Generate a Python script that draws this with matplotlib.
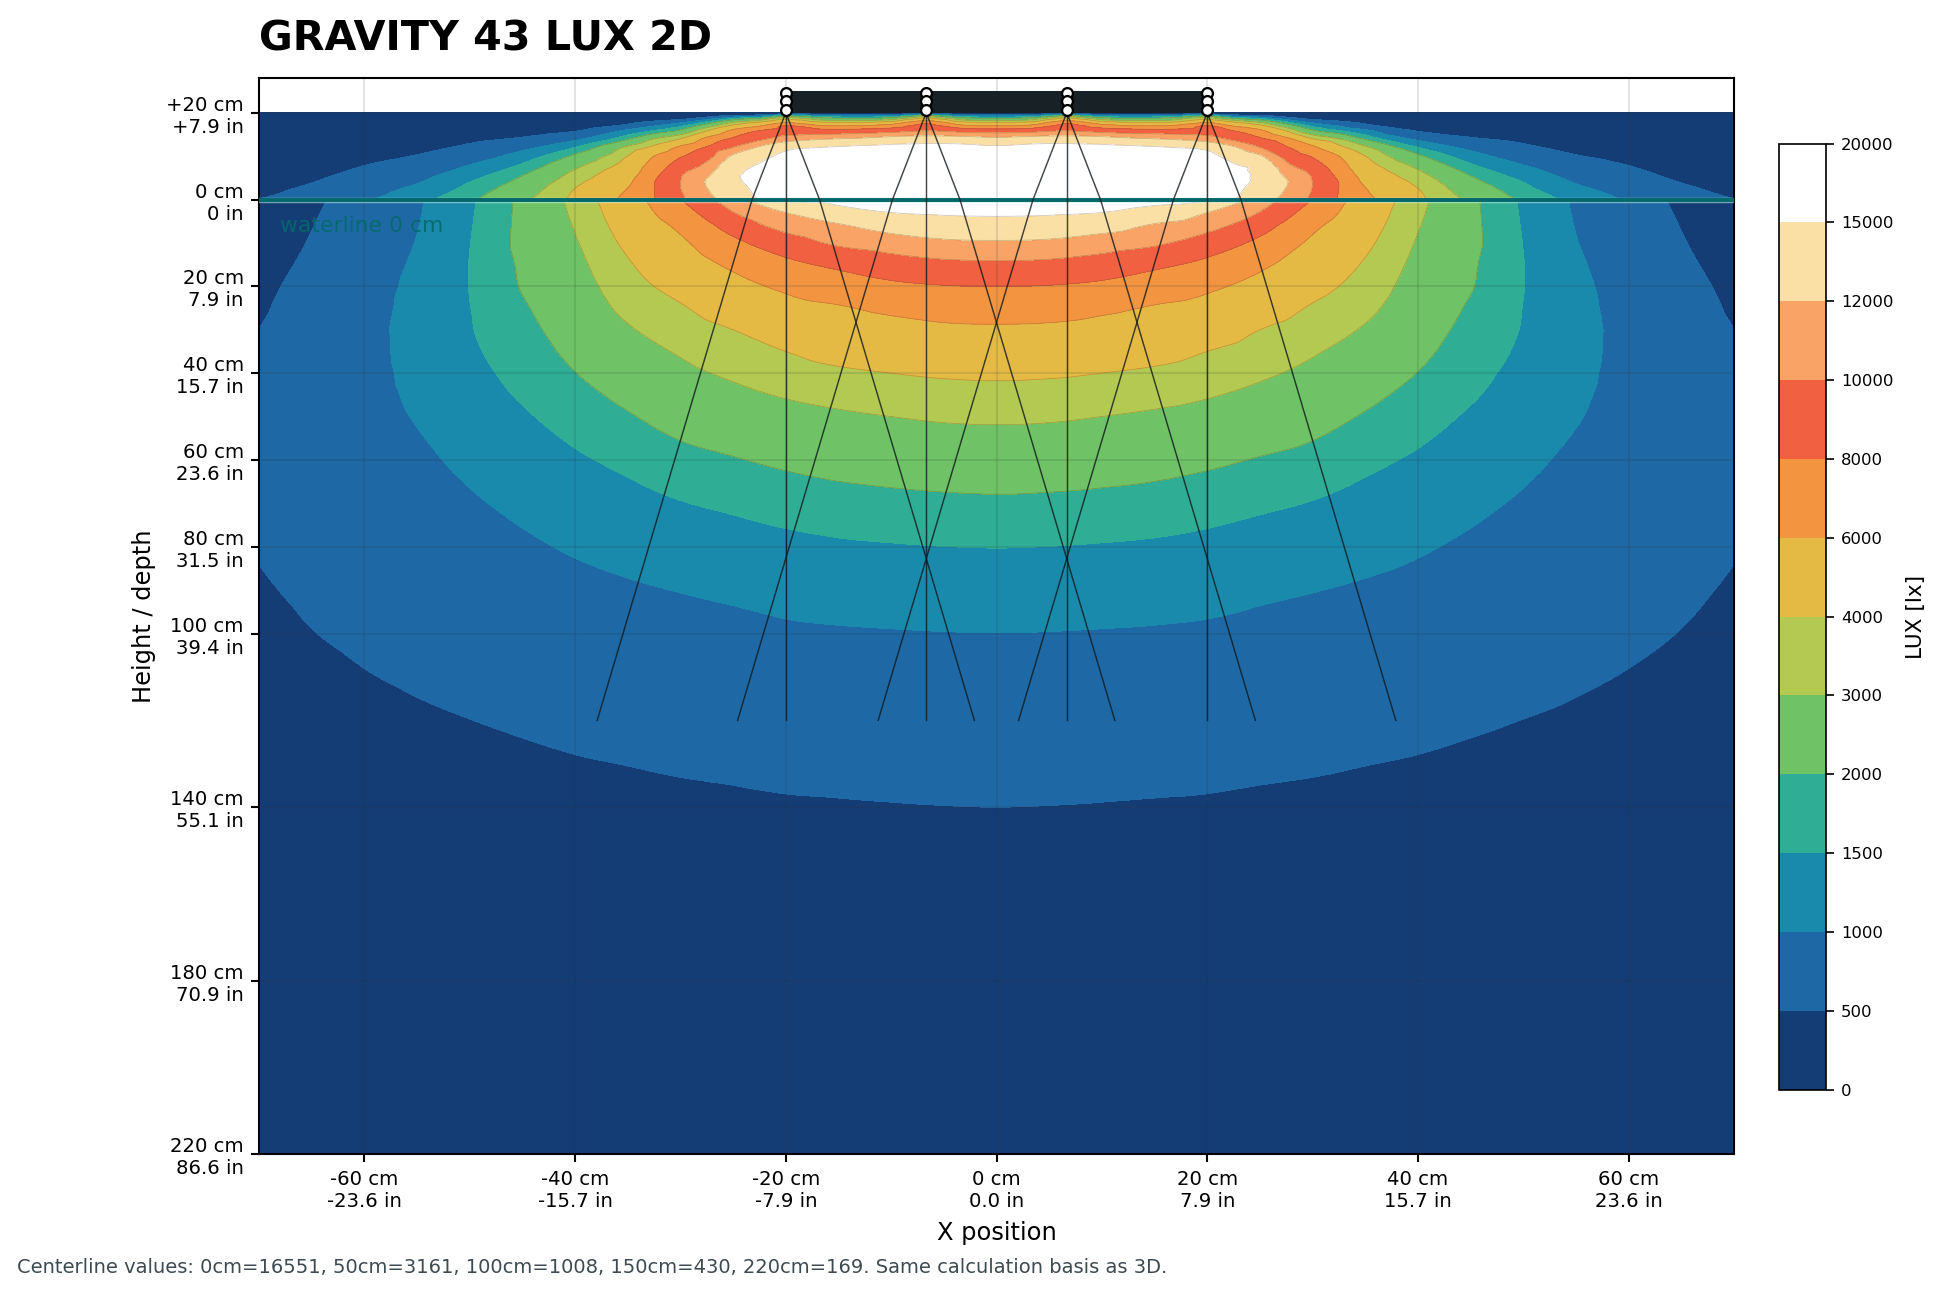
# gravity_lux_2d.py
# Side view of the lux field, air above the waterline and water below it.

import matplotlib
matplotlib.use("Agg")
import matplotlib.pyplot as plt
import matplotlib.tri as mtri
import numpy as np
from matplotlib.cm import ScalarMappable
from matplotlib.colors import BoundaryNorm, ListedColormap

# ---- values ----
LEVELS = [0, 500, 1000, 1500, 2000, 3000, 4000, 6000, 8000, 10000, 12000, 15000, 20000]
BAND_COLORS = ["#153d75", "#1e69a5", "#1a8aac", "#2fae95", "#6fc265", "#b3c951",
               "#e4ba44", "#f39540", "#f16141", "#f9a366", "#fbe0a6", "#ffffff"]

# water: one list per |x| column, values go down the depth rows
WATER_X = [0, 5, 10, 15, 20, 25, 30, 35, 40, 45, 50, 55, 60, 65, 70]
WATER_DEPTH = [0, 3, 6, 10, 15, 20, 25, 30, 35, 40, 45, 50, 60, 70, 80, 90, 100, 110, 120,
               130, 140, 160, 180, 220]
WATER_LUX = [
    [16551, 15416, 13904, 11702, 9667, 8000, 6810, 5754, 4985, 4216, 3647, 3157, 2432, 1902, 1510, 1227, 997, 839, 706, 594, 500, 393, 318, 169],
    [16800, 15340, 13698, 11565, 9541, 7928, 6723, 5692, 4923, 4154, 3608, 3118, 2409, 1880, 1497, 1215, 991, 834, 702, 591, 497, 388, 312, 166],
    [16700, 15000, 13000, 10958, 9128, 7615, 6333, 5460, 4730, 4000, 3500, 3000, 2333, 1839, 1471, 1199, 979, 824, 693, 584, 491, 378, 302, 160],
    [16000, 13865, 11745, 10292, 8383, 7000, 5860, 5160, 4460, 3808, 3290, 2868, 2241, 1786, 1436, 1176, 964, 811, 683, 574, 483, 365, 292, 153],
    [15100, 12000, 10668, 9090, 7518, 6313, 5460, 4730, 4000, 3520, 3072, 2716, 2117, 1696, 1376, 1136, 940, 793, 668, 564, 475, 352, 280, 146],
    [11100, 9926, 8815, 7555, 6320, 5460, 4730, 4000, 3548, 3147, 2792, 2484, 1963, 1583, 1298, 1066, 895, 758, 642, 543, 460, 335, 265, 138],
    [7950, 7170, 6390, 5690, 5070, 4450, 3878, 3461, 3089, 2792, 2507, 2251, 1825, 1480, 1223, 1011, 858, 729, 619, 526, 447, 318, 250, 130],
    [5200, 4923, 4646, 4277, 3871, 3548, 3226, 2910, 2630, 2378, 2149, 1951, 1612, 1344, 1133, 955, 815, 694, 592, 504, 430, 300, 235, 122],
    [3300, 3180, 3060, 2922, 2767, 2612, 2457, 2301, 2146, 1990, 1832, 1690, 1437, 1224, 1042, 893, 765, 657, 564, 484, 415, 285, 222, 115],
    [2146, 2160, 2170, 2170, 2090, 2040, 1930, 1835, 1740, 1640, 1548, 1447, 1253, 1085, 940, 815, 706, 612, 530, 459, 398, 272, 210, 110],
    [1420, 1445, 1465, 1490, 1510, 1510, 1490, 1470, 1425, 1370, 1315, 1255, 1090, 955, 839, 736, 646, 567, 498, 437, 383, 262, 205, 105],
    [950, 965, 985, 1015, 1060, 1095, 1115, 1125, 1120, 1100, 1065, 1025, 924, 826, 739, 660, 590, 527, 471, 421, 376, 250, 195, 100],
    [684, 715, 750, 783, 820, 851, 870, 888, 885, 875, 870, 860, 815, 745, 665, 600, 541, 490, 440, 395, 355, 240, 185, 95],
    [440, 465, 490, 520, 560, 600, 625, 640, 652, 660, 665, 665, 650, 612, 576, 536, 495, 450, 410, 372, 335, 225, 175, 90],
    [290, 315, 340, 370, 405, 440, 470, 500, 515, 530, 540, 545, 540, 527, 512, 480, 445, 410, 378, 348, 320, 210, 165, 85],
]

# air: same idea, height rows above the waterline
AIR_X = [0, 3.33, 6.67, 10, 13.33, 16.67, 20, 22.5, 25, 27.5, 30, 32.5, 35, 40, 45, 50, 55, 60, 65, 70]
AIR_HEIGHT = [0, 2, 4, 6, 8, 10, 12, 14, 16, 17, 18, 19, 19.5, 20]
AIR_LUX = [
    [17000, 17500, 17800, 17800, 17500, 16800, 15500, 12600, 8600, 6000, 3400, 1500, 625, 100],
    [17200, 17700, 18000, 18000, 17700, 17000, 16000, 13000, 9000, 6500, 3800, 1700, 700, 150],
    [17000, 17500, 17800, 18000, 17800, 17200, 16200, 13150, 9700, 8700, 6670, 3300, 1500, 300],
    [16900, 17400, 17700, 17800, 17500, 16900, 15900, 12900, 8900, 6900, 4000, 1700, 700, 150],
    [16500, 17000, 17300, 17300, 17000, 16400, 15500, 12200, 8500, 6000, 3400, 1500, 625, 100],
    [15800, 16300, 16500, 16700, 16500, 16000, 15000, 11700, 8400, 6200, 3600, 1700, 700, 150],
    [15050, 15800, 16300, 16500, 16300, 15700, 14300, 10830, 8800, 8000, 5250, 2670, 1250, 300],
    [15000, 15400, 15700, 15600, 15150, 14000, 12300, 9500, 7800, 5800, 3600, 1400, 500, 50],
    [13100, 13900, 14400, 14400, 13900, 12300, 10000, 8300, 6200, 4330, 2600, 1000, 380, 30],
    [11290, 11800, 12150, 11460, 10380, 9260, 8170, 6500, 3750, 2430, 1400, 500, 180, 20],
    [9650, 9900, 9980, 9680, 8770, 7793, 6414, 4000, 2000, 1375, 778, 220, 80, 10],
    [7930, 7950, 7950, 7400, 6800, 6000, 4350, 3000, 1450, 960, 540, 170, 60, 10],
    [6510, 6150, 5700, 5200, 4600, 4000, 3200, 1900, 1040, 600, 350, 110, 40, 5],
    [4326, 4100, 3710, 3240, 2710, 2140, 1500, 891, 450, 310, 180, 70, 25, 3],
    [2820, 2520, 2220, 1910, 1550, 1210, 870, 550, 320, 230, 140, 60, 20, 2],
    [1900, 1700, 1500, 1250, 1000, 760, 575, 410, 240, 170, 100, 40, 15, 2],
    [1340, 1150, 970, 820, 672, 522, 400, 290, 180, 120, 75, 30, 10, 1],
    [950, 835, 720, 605, 490, 390, 300, 210, 130, 90, 55, 20, 8, 1],
    [725, 610, 490, 400, 320, 250, 190, 130, 80, 55, 35, 15, 5, 1],
    [505, 400, 320, 260, 210, 165, 125, 85, 55, 35, 22, 10, 4, 1],
]

# fixtures and their beam edges (depth is negative above the water)
FIXTURE_X = [-20, -6.67, 6.67, 20]
FIXTURE_MARK_DEPTH = [-24.6, -22.6, -20.7]
FIXTURE_TOP = -25
FIXTURE_BOTTOM = -20
RAY_DEPTH = [-20, 0, 120]
RAY_SPREAD = [0, 3.2, 17.9]

X_TICKS = [-60, -40, -20, 0, 20, 40, 60]
X_TICK_LABELS = ["-60 cm\n-23.6 in", "-40 cm\n-15.7 in", "-20 cm\n-7.9 in", "0 cm\n0.0 in",
                 "20 cm\n7.9 in", "40 cm\n15.7 in", "60 cm\n23.6 in"]
Y_TICKS = [-20, 0, 20, 40, 60, 80, 100, 140, 180, 220]
Y_TICK_LABELS = ["+20 cm\n+7.9 in", "0 cm\n0 in", "20 cm\n7.9 in", "40 cm\n15.7 in", "60 cm\n23.6 in",
                 "80 cm\n31.5 in", "100 cm\n39.4 in", "140 cm\n55.1 in", "180 cm\n70.9 in", "220 cm\n86.6 in"]

TITLE = "GRAVITY 43 LUX 2D"
FOOTER = "Centerline values: 0cm=16551, 50cm=3161, 100cm=1008, 150cm=430, 220cm=169. Same calculation basis as 3D."
# -------------------------------------

W, H, DPI = 1946, 1295, 150
TICK_SIZE = 9.4


def smooth_field(xs, ys, lux_by_column):
    # columns hold |x|, the picture is symmetric around x = 0
    xs = np.array(xs, dtype=float)
    ys = np.array(ys, dtype=float)
    z = np.array(lux_by_column, dtype=float).T
    full_x = np.r_[-xs[::-1], xs[1:]]
    full_z = np.log(np.hstack([z[:, ::-1], z[:, 1:]]))
    gx, gy = np.meshgrid(full_x, ys)
    tri = mtri.Triangulation(gx.ravel(), gy.ravel())
    # round the grid corners with matplotlib's own refiner, lux falls off roughly exponentially
    interp = mtri.CubicTriInterpolator(tri, full_z.ravel(), kind="geom")
    fine_tri, fine_z = mtri.UniformTriRefiner(tri).refine_field(full_z.ravel(), triinterpolator=interp, subdiv=3)
    return fine_tri, np.clip(np.exp(fine_z), 1, 19999)


def main():
    fig = plt.figure(figsize=(W / DPI, H / DPI), dpi=DPI)
    ax = fig.add_axes([259 / W, 1 - 1154.4 / H, (1734 - 259) / W, (1154.4 - 78) / H])

    air = smooth_field(AIR_X, -np.array(AIR_HEIGHT, dtype=float), AIR_LUX)
    water = smooth_field(WATER_X, WATER_DEPTH, WATER_LUX)

    for fine_tri, fine_z in (air, water):
        ax.tricontourf(fine_tri, fine_z, levels=LEVELS, colors=BAND_COLORS, zorder=1)
        # faint edges show only on the warm bands
        ax.tricontour(fine_tri, fine_z, levels=LEVELS[4:-1], colors="#6b4a1e", linewidths=0.35, alpha=0.35, zorder=1.2)

    ax.set_xlim(-70, 70)
    ax.set_ylim(220, -28)
    ax.set_xticks(X_TICKS, X_TICK_LABELS, fontsize=TICK_SIZE)
    ax.set_yticks(Y_TICKS, Y_TICK_LABELS, fontsize=TICK_SIZE)
    ax.tick_params(length=3.8, width=1)
    ax.grid(True, color="#26323a", alpha=0.13, linewidth=1)
    ax.set_axisbelow(False)
    ax.set_xlabel("X position", fontsize=11.6, labelpad=5)
    ax.set_ylabel("Height / depth", fontsize=11.6, labelpad=5)
    for spine in ax.spines.values():
        spine.set_linewidth(1)

    # waterline
    ax.axhline(0, color="#c8f0ee", linewidth=2.6, alpha=0.55, zorder=3)
    ax.axhline(0, color="#05696b", linewidth=1.9, zorder=3.1)
    ax.text(-68, 6, "waterline 0 cm", color="#05696b", fontsize=10.5, va="center", ha="left", alpha=0.9, zorder=3.2)

    # beam edges from each fixture
    for fx in FIXTURE_X:
        for sign in (-1, 0, 1):
            ax.plot(fx + sign * np.array(RAY_SPREAD), RAY_DEPTH, color="#10181c", linewidth=0.7, alpha=0.8, zorder=4)

    # fixture bar and the three marks on each end
    ax.fill_between([FIXTURE_X[0], FIXTURE_X[-1]], FIXTURE_TOP, FIXTURE_BOTTOM, color="#182226", linewidth=0, zorder=5)
    for fx in FIXTURE_X:
        ax.plot([fx] * len(FIXTURE_MARK_DEPTH), FIXTURE_MARK_DEPTH, linestyle="none", marker="o", markersize=5.2,
                markerfacecolor="white", markeredgecolor="black", markeredgewidth=1.1, zorder=6)

    ax.text(0, 1.017, TITLE, transform=ax.transAxes, fontsize=19.8, fontweight="bold", ha="left", va="bottom")

    cax = fig.add_axes([1779 / W, 1 - 1089.5 / H, (1826 - 1779) / W, (1089.5 - 143.5) / H])
    norm = BoundaryNorm(LEVELS, len(BAND_COLORS))
    sm = ScalarMappable(norm=norm, cmap=ListedColormap(BAND_COLORS))
    cbar = fig.colorbar(sm, cax=cax, ticks=LEVELS, spacing="uniform")
    cbar.ax.tick_params(labelsize=7.9, length=3.8)
    cbar.set_label("LUX [lx]", fontsize=10.4, labelpad=6)

    fig.text(17 / W, 1 - 1267.5 / H, FOOTER, fontsize=9.36, color="#3d4a50", ha="left", va="center")

    fig.savefig("out.png", dpi=DPI)


if __name__ == "__main__":
    main()
